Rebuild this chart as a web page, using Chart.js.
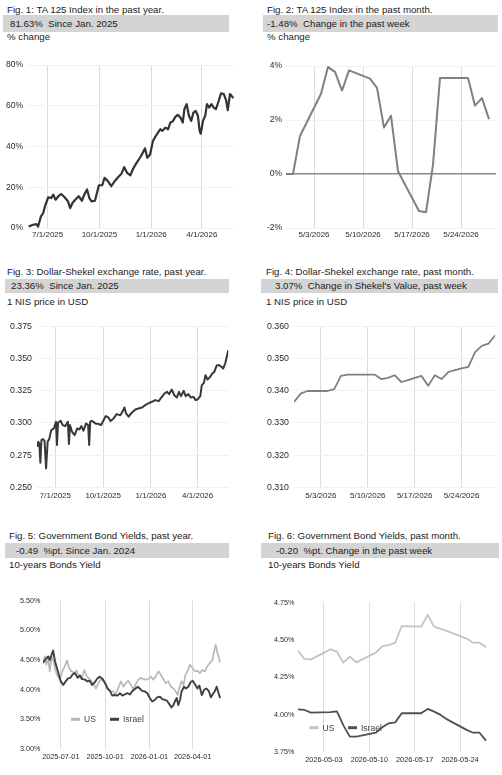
<!DOCTYPE html>
<html>
<head>
<meta charset="utf-8">
<script src="https://cdn.jsdelivr.net/npm/chart.js@4.4.1/dist/chart.umd.min.js"></script>
<style>
  body { margin: 0; background: #fff; width: 502px; height: 775px; position: relative; overflow: hidden;
         font-family: "Liberation Sans", Arial, sans-serif; color: #222; }
  .t { position: absolute; font-size: 9.7px; line-height: 12px; white-space: pre; }
  .bar { position: absolute; background: #d4d4d4; font-size: 9.7px; white-space: pre; box-sizing: border-box; }
  canvas { position: absolute; }
</style>
</head>
<body>

<div class="t" style="left:7px;top:4px">Fig. 1: TA 125 Index in the past year.</div>
<div class="bar" style="left:3px;top:15px;width:226px;height:17px;line-height:17px;padding-left:7px">81.63%  Since Jan. 2025</div>
<div class="t" style="left:7px;top:31px">% change</div>

<div class="t" style="left:267px;top:4px">Fig. 2: TA 125 Index in the past month.</div>
<div class="bar" style="left:263px;top:15px;width:235px;height:17px;line-height:17px;padding-left:4px">-1.48%  Change in the past week</div>
<div class="t" style="left:267px;top:31px">% change</div>

<div class="t" style="left:7px;top:266px">Fig. 3: Dollar-Shekel exchange rate, past year.</div>
<div class="bar" style="left:5px;top:279px;width:224px;height:14px;line-height:14px;padding-left:6px">23.36%  Since Jan. 2025</div>
<div class="t" style="left:7px;top:296px">1 NIS price in USD</div>

<div class="t" style="left:266px;top:266px">Fig. 4: Dollar-Shekel exchange rate, past month.</div>
<div class="bar" style="left:261px;top:279px;width:237px;height:14px;line-height:14px;padding-left:14px">3.07%  Change in Shekel's Value, past week</div>
<div class="t" style="left:266px;top:296px">1 NIS price in USD</div>

<div class="t" style="left:9px;top:530px">Fig. 5: Government Bond Yields, past year.</div>
<div class="bar" style="left:5px;top:543px;width:224px;height:15px;line-height:15px;padding-left:11px">-0.49  %pt. Since Jan. 2024</div>
<div class="t" style="left:9px;top:559px">10-years Bonds Yield</div>

<div class="t" style="left:268px;top:530px">Fig. 6: Government Bond Yields, past month.</div>
<div class="bar" style="left:261px;top:543px;width:238px;height:15px;line-height:15px;padding-left:15px">-0.20  %pt. Change in the past week</div>
<div class="t" style="left:268px;top:559px">10-years Bonds Yield</div>

<canvas id="c1" width="245" height="190" style="left:0;top:55px"></canvas>
<canvas id="c2" width="251" height="190" style="left:251px;top:55px"></canvas>
<canvas id="c3" width="245" height="190" style="left:0;top:316px"></canvas>
<canvas id="c4" width="251" height="190" style="left:251px;top:316px"></canvas>
<canvas id="c5" width="245" height="185" style="left:0;top:590px"></canvas>
<canvas id="c6" width="251" height="185" style="left:251px;top:590px"></canvas>

<script>
// x values are days: year charts count from 7/1/2025, month charts are day of May 2026
const yearTicks = [0, 92, 184, 274];
const yearLabels = ['7/1/2025', '10/1/2025', '1/1/2026', '4/1/2026'];
const yearLabelsIso = ['2025-07-01', '2025-10-01', '2026-01-01', '2026-04-01'];
const monthTicks = [3, 10, 17, 24];
const monthLabels = ['5/3/2026', '5/10/2026', '5/17/2026', '5/24/2026'];
const monthLabelsIso = ['2026-05-03', '2026-05-10', '2026-05-17', '2026-05-24'];

// Fig 1: TA 125, % change over the year
const ta125YearDays = [-34,-26,-20,-17,-12,-8,-4,1,6,10,14,19,24,30,36,40,44,49,55,61,65,70,74,78,84,91,97,101,107,113,119,125,131,136,141,147,152,158,164,168,173,177,182,187,191,196,200,204,209,214,218,222,227,231,236,240,243,247,251,255,259,263,267,270,272,276,280,283,287,291,295,299,304,308,313,317,320,324,330];
const ta125YearPct = [0.7,1.6,1.9,0.7,5.7,7.3,11.4,15.1,14.7,16.4,13.9,15.6,16.7,15.1,13.1,9.8,12.3,13.9,15.6,13.4,16.4,18.9,14.7,13.1,13.4,21.0,21.0,24.6,23.0,20.5,23.0,24.9,26.6,29.9,27.1,25.9,29.2,32.0,34.5,36.5,39.1,34.5,36.1,42.7,44.7,46.8,48.5,47.7,49.3,48.5,51.8,52.3,54.6,55.6,54.2,51.8,58.4,60.8,55.1,52.6,56.7,57.5,55.1,47.7,46.3,52.6,55.1,60.8,59.1,60.8,59.1,58.4,62.5,66.1,65.8,62.8,57.9,65.8,63.8];

// Fig 2: TA 125, % change over the month
const ta125MonthDays = [-1,0,1,4,5,6,7,8,11,12,13,14,15,18,19,20,21,25,26,27,28];
const ta125MonthPct = [0,0,1.41,2.97,3.96,3.78,3.09,3.84,3.53,3.19,1.72,2.16,0.1,-1.37,-1.42,0.35,3.56,3.56,2.53,2.81,2.03];

// Fig 3: 1 NIS in USD over the year
const nisYearDays = [-35,-33,-31,-29,-27,-24,-21,-18,-15,-12,-8,-3,1,3,5,10,14,19,24,26,28,32,37,42,46,50,54,59,63,65,67,70,77,83,88,93,97,102,106,112,118,125,129,133,136,141,147,154,160,167,173,179,186,192,199,204,210,215,219,224,229,234,238,242,247,251,256,261,266,270,274,279,282,286,289,293,298,302,306,311,315,320,323,327,330,333];
const nisYearUsd = [0.2815,0.2854,0.2836,0.2691,0.2867,0.2874,0.2862,0.2647,0.2854,0.2874,0.2944,0.2957,0.3009,0.2828,0.3001,0.3017,0.2983,0.2975,0.3009,0.2836,0.2983,0.2931,0.2905,0.2957,0.2949,0.2975,0.2939,0.2996,0.2983,0.2828,0.3009,0.3017,0.2996,0.2991,0.2983,0.3022,0.3053,0.3042,0.3014,0.3035,0.3068,0.3060,0.3086,0.3120,0.3073,0.3048,0.3079,0.3104,0.3112,0.3120,0.3138,0.3151,0.3164,0.3177,0.3169,0.3197,0.3228,0.3241,0.3223,0.3259,0.3215,0.3197,0.3241,0.3208,0.3249,0.3208,0.3223,0.3197,0.3202,0.3177,0.3182,0.3208,0.3293,0.3311,0.3370,0.3337,0.3357,0.3383,0.3396,0.3448,0.3448,0.3435,0.3422,0.3461,0.3512,0.3564];

// Fig 4: 1 NIS in USD over the month
const nisMonthDays = [-1,0,1,4,5,6,7,11,12,13,14,15,16,17,18,19,20,21,22,23,24,25,26,27,28,29];
const nisMonthUsd = [0.3365,0.3391,0.3399,0.3399,0.3405,0.3446,0.3450,0.3450,0.3436,0.3440,0.3448,0.3427,0.3433,0.3440,0.3446,0.3415,0.3448,0.3436,0.3458,0.3464,0.3469,0.3474,0.3520,0.3539,0.3546,0.3572];

// Fig 5: 10-year yields over the year
const usYearDays = [-37,-33,-30,-26,-23,-19,-16,-12,-8,-2,3,8,13,17,22,28,33,38,43,49,53,58,64,69,73,78,83,88,93,98,104,109,114,119,125,130,135,140,146,151,155,161,166,171,177,182,187,192,197,203,208,213,218,223,229,234,239,243,246,251,255,259,264,268,273,279,284,289,294,300,304,310,315,318,322,325,329,331];
const usYearYield = [4.475,4.56,4.42,4.53,4.31,4.56,4.50,4.36,4.25,4.17,4.31,4.39,4.49,4.37,4.31,4.28,4.32,4.22,4.18,4.33,4.24,4.19,4.14,4.08,4.02,4.11,4.18,4.15,4.11,4.02,3.97,3.97,3.92,4.02,4.14,4.05,4.11,4.15,4.08,4.00,4.08,4.17,4.20,4.18,4.17,4.18,4.22,4.17,4.22,4.31,4.25,4.18,4.11,4.14,4.05,4.02,3.97,3.91,4.02,4.14,4.08,4.25,4.32,4.42,4.37,4.31,4.32,4.28,4.33,4.31,4.39,4.45,4.50,4.62,4.76,4.64,4.53,4.46];
const ilYearDays = [-37,-33,-30,-26,-23,-19,-16,-12,-9,-4,0,5,10,15,20,24,29,35,40,44,50,55,60,65,71,76,81,87,92,97,102,107,112,118,123,128,133,139,144,148,154,160,164,169,175,180,185,190,196,200,206,211,216,221,227,230,234,237,241,244,248,251,256,260,265,270,274,279,284,288,293,298,303,308,312,317,320,324,327,331];
const ilYearYield = [4.45,4.50,4.53,4.56,4.50,4.59,4.66,4.48,4.39,4.25,4.14,4.08,4.14,4.19,4.20,4.25,4.28,4.20,4.24,4.18,4.17,4.14,4.15,4.08,4.13,4.19,4.22,4.18,4.11,4.02,3.98,3.90,3.91,3.90,3.94,3.90,3.92,3.94,3.92,3.97,4.01,4.05,4.02,3.98,3.97,3.94,3.86,3.80,3.83,3.87,3.88,3.84,3.83,3.81,3.74,3.70,3.74,3.80,3.86,3.74,3.83,3.97,4.05,4.02,4.05,4.13,4.15,4.09,4.02,4.07,3.91,4.00,4.02,3.97,3.87,3.94,3.97,4.05,3.97,3.86];

// Fig 6: 10-year yields over the month
const yieldMonthDays = [-1,0,1,4,5,6,7,8,11,12,13,14,15,18,19,20,21,22,25,26,27,28];
const usMonthYield = [4.429,4.374,4.371,4.438,4.423,4.349,4.389,4.351,4.416,4.460,4.467,4.483,4.594,4.590,4.668,4.590,4.575,4.56,4.51,4.483,4.483,4.452];
const ilMonthYield = [4.037,4.033,4.015,4.019,4.024,3.93,3.855,3.855,3.881,3.917,3.944,3.950,4.011,4.011,4.040,4.022,4.0,3.97,3.90,3.881,3.881,3.828];

Chart.defaults.font.family = '"Liberation Sans", Arial, sans-serif';

// legend drawn inside the plot, like the original
const inlineLegend = {
  id: 'inlineLegend',
  afterDatasetsDraw(chart, args, opts) {
    if (!opts || !opts.items) return;
    const ctx = chart.ctx;
    ctx.save();
    ctx.font = '8.5px "Liberation Sans", Arial, sans-serif';
    ctx.textBaseline = 'middle';
    opts.items.forEach(it => {
      ctx.strokeStyle = it.color;
      ctx.lineWidth = 3;
      ctx.beginPath();
      ctx.moveTo(it.x, opts.y);
      ctx.lineTo(it.x + 9, opts.y);
      ctx.stroke();
      ctx.fillStyle = '#444';
      ctx.fillText(it.text, it.x + 13, opts.y + 0.5);
    });
    ctx.restore();
  }
};

function pts(days, vals) {
  return days.map((d, i) => ({ x: d, y: vals[i] }));
}

function lineChart(id, c) {
  return new Chart(document.getElementById(id), {
    type: 'line',
    data: {
      datasets: c.series.map(s => ({
        data: pts(s.days, s.vals),
        borderColor: s.color,
        borderWidth: s.width || 1.5,
        order: s.order || 0,
        pointRadius: 0,
        tension: 0,
        fill: false,
        borderJoinStyle: 'round',
      })),
    },
    options: {
      responsive: false,
      animation: false,
      layout: { padding: { top: c.top, right: c.right, left: 0, bottom: 0 } },
      plugins: {
        legend: { display: false },
        tooltip: { enabled: false },
        inlineLegend: c.legend || false,
      },
      scales: {
        x: {
          type: 'linear',
          min: c.xMin,
          max: c.xMax,
          afterBuildTicks: s => { s.ticks = c.xTicks.map(v => ({ value: v })); },
          afterFit: s => { s.height = c.xH; },
          ticks: {
            autoSkip: false, maxRotation: 0, padding: c.xPad, color: '#2a2a2a',
            font: { size: c.xFont },
            callback: v => c.xLabels[c.xTicks.indexOf(v)],
          },
          grid: { color: '#dcdcdc', lineWidth: 1, drawTicks: false },
          border: { display: false },
        },
        y: {
          min: c.yMin,
          max: c.yMax,
          afterFit: s => { s.width = c.yW; },
          ticks: {
            stepSize: c.yStep, padding: c.yPad, color: '#2a2a2a',
            font: { size: c.yFont },
            callback: c.yFmt,
          },
          grid: {
            display: c.yGrid !== false,
            drawTicks: false,
            color: ctx => (c.zeroLine && ctx.tick.value === 0) ? '#8a8a8a' : '#f1f1f1',
            lineWidth: ctx => (c.zeroLine && ctx.tick.value === 0) ? 1.5 : 1,
          },
          border: { display: false },
        },
      },
    },
    plugins: [inlineLegend],
  });
}

lineChart('c1', {
  series: [{ days: ta125YearDays, vals: ta125YearPct, color: '#333', width: 2.2 }],
  top: 10, right: 10.5, yW: 28, yPad: 5, xH: 17, xPad: 1.5, xFont: 8, yFont: 8.5,
  xMin: -35, xMax: 332, xTicks: yearTicks, xLabels: yearLabels,
  yMin: 0, yMax: 80, yStep: 20, yFmt: v => v + '%',
});

lineChart('c2', {
  series: [{ days: ta125MonthDays, vals: ta125MonthPct, color: '#808080', width: 2 }],
  top: 11, right: 6, yW: 35, yPad: 4, xH: 17, xPad: 1.5, xFont: 8, yFont: 8.5,
  xMin: -1, xMax: 29, xTicks: monthTicks, xLabels: monthLabels,
  yMin: -2, yMax: 4, yStep: 2, yFmt: v => v + '%', zeroLine: true,
});

lineChart('c3', {
  series: [{ days: nisYearDays, vals: nisYearUsd, color: '#383838', width: 2 }],
  top: 10, right: 16.7, yW: 37, yPad: 5, xH: 18.7, xPad: 3.5, xFont: 8, yFont: 8.8,
  xMin: -35.5, xMax: 333, xTicks: yearTicks, xLabels: yearLabels,
  yMin: 0.25, yMax: 0.375, yStep: 0.025, yFmt: v => v.toFixed(3),
});

lineChart('c4', {
  series: [{ days: nisMonthDays, vals: nisMonthUsd, color: '#808080', width: 1.8 }],
  top: 10, right: 6.8, yW: 43, yPad: 5, xH: 18.7, xPad: 3.5, xFont: 8, yFont: 8.8,
  xMin: -1, xMax: 29, xTicks: monthTicks, xLabels: monthLabels,
  yMin: 0.31, yMax: 0.36, yStep: 0.01, yFmt: v => v.toFixed(3),
});

lineChart('c5', {
  series: [
    { days: usYearDays, vals: usYearYield, color: '#b8b8b8', width: 1.7, order: 2 },
    { days: ilYearDays, vals: ilYearYield, color: '#404040', width: 1.9, order: 1 },
  ],
  top: 10.7, right: 23.5, yW: 43, yPad: 2.5, xH: 26, xPad: 4, xFont: 7.3, yFont: 7.2,
  xMin: -37, xMax: 334, xTicks: yearTicks, xLabels: yearLabelsIso,
  yMin: 3, yMax: 5.5, yStep: 0.5, yFmt: v => v.toFixed(2) + '%', yGrid: false,
  legend: { y: 129.3, items: [{ text: 'US', color: '#b8b8b8', x: 71 }, { text: 'Israel', color: '#404040', x: 110 }] },
});

lineChart('c6', {
  series: [
    { days: yieldMonthDays, vals: usMonthYield, color: '#c4c4c4', width: 1.8, order: 2 },
    { days: yieldMonthDays, vals: ilMonthYield, color: '#505050', width: 1.8, order: 1 },
  ],
  top: 12.7, right: 9.5, yW: 47, yPad: 3.5, xH: 22.7, xPad: 3.6, xFont: 7.3, yFont: 7.2,
  xMin: -1, xMax: 29, xTicks: monthTicks, xLabels: monthLabelsIso,
  yMin: 3.75, yMax: 4.75, yStep: 0.25, yFmt: v => v.toFixed(2) + '%', yGrid: false,
  legend: { y: 137.7, items: [{ text: 'US', color: '#c4c4c4', x: 58.5 }, { text: 'Israel', color: '#505050', x: 97 }] },
});
</script>
</body>
</html>
